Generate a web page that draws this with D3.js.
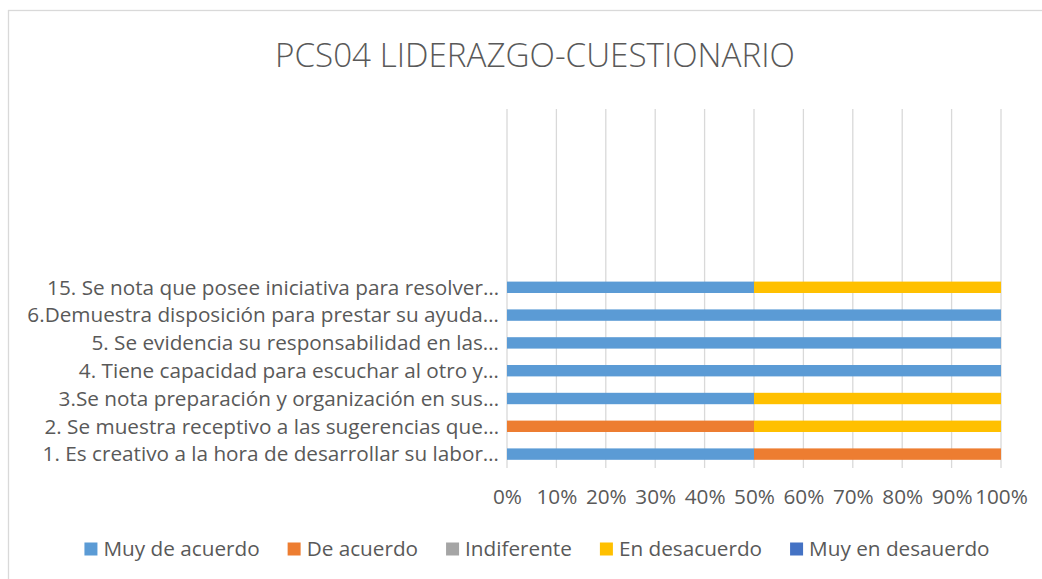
<!DOCTYPE html>
<html>
<head>
<meta charset="utf-8">
<script src="https://cdn.jsdelivr.net/npm/d3@7"></script>
<style>
  html, body { margin: 0; padding: 0; background: #fff; }
  svg { display: block; }
</style>
</head>
<body>
<svg id="chart" width="1042" height="579"></svg>
<script>
const title = "PCS04 LIDERAZGO-CUESTIONARIO";
const categories = [
  "15. Se nota que posee iniciativa para resolver…",
  "6.Demuestra disposición para prestar su ayuda…",
  "5. Se evidencia su responsabilidad en las…",
  "4. Tiene capacidad para escuchar al otro y…",
  "3.Se nota preparación y organización en sus…",
  "2. Se muestra receptivo a las sugerencias que…",
  "1. Es creativo a la hora de desarrollar su labor…"
];
const seriesNames = ["Muy de acuerdo", "De acuerdo", "Indiferente", "En desacuerdo", "Muy en desauerdo"];
const muyDeAcuerdo   = [50, 100, 100, 100, 50, 0, 50];
const deAcuerdo      = [0, 0, 0, 0, 0, 50, 50];
const indiferente    = [0, 0, 0, 0, 0, 0, 0];
const enDesacuerdo   = [50, 0, 0, 0, 50, 50, 0];
const muyEnDesacuerdo= [0, 0, 0, 0, 0, 0, 0];
const tickValues = [0, 0.1, 0.2, 0.3, 0.4, 0.5, 0.6, 0.7, 0.8, 0.9, 1.0];
const colors = ["#5B9BD5", "#ED7D31", "#A5A5A5", "#FFC000", "#4472C4"];

const seriesValues = [muyDeAcuerdo, deAcuerdo, indiferente, enDesacuerdo, muyEnDesacuerdo];
const rows = categories.map((c, i) => {
  const total = seriesValues.reduce((s, arr) => s + arr[i], 0);
  const o = { cat: c };
  seriesNames.forEach((n, k) => o[n] = seriesValues[k][i] / total);
  return o;
});
const stacked = d3.stack().keys(seriesNames)(rows);

const svg = d3.select("#chart");
const FONT = "'Open Sans', 'Noto Sans', sans-serif";
const TXT = "#595959";

// chart border
svg.append("rect").attr("x", 8.5).attr("y", 10.5).attr("width", 1100).attr("height", 700)
  .attr("fill", "#fff").attr("stroke", "#d9d9d9").attr("stroke-width", 1.3);

const plotLeft = 507, plotRight = 1001, plotTop = 109, plotBottom = 468;
const step = 27.8;
const x = d3.scaleLinear().domain([0, 1]).range([plotLeft, plotRight]);
const y = d3.scaleBand().domain(categories)
  .range([plotBottom - step * categories.length, plotBottom]).paddingInner(0.59).paddingOuter(0.295);

// gridlines
svg.append("g").selectAll("line").data(tickValues).join("line")
  .attr("x1", d => x(d)).attr("x2", d => x(d))
  .attr("y1", plotTop).attr("y2", plotBottom)
  .attr("stroke", "#d9d9d9").attr("stroke-width", 1.3);

// bars
svg.append("g").selectAll("g").data(stacked).join("g")
  .attr("fill", (d, i) => colors[i])
  .selectAll("rect").data(d => d).join("rect")
  .attr("x", d => x(d[0]))
  .attr("width", d => x(d[1]) - x(d[0]))
  .attr("y", d => y(d.data.cat))
  .attr("height", y.bandwidth());

// category labels
const catG = svg.append("g");
const catLabels = catG.selectAll("text").data(categories).join("text")
  .attr("x", 499).attr("y", d => y(d) + y.bandwidth() / 2)
  .attr("dy", "0.35em").attr("text-anchor", "end")
  .attr("font-family", FONT).attr("fill", TXT).attr("font-size", 16)
  .text(d => d);
// fit font size so longest label is ~472px
let maxW = 0;
catLabels.each(function() { maxW = Math.max(maxW, this.getComputedTextLength()); });
const fs = 16 * 472 / maxW;
catLabels.attr("font-size", fs);

// x axis tick labels
const xAxis = d3.axisBottom(x).tickValues(tickValues).tickFormat(d3.format(".0%")).tickSize(0).tickPadding(0);
const ax = svg.append("g").attr("transform", `translate(0,${489})`).call(xAxis);
ax.select(".domain").remove();
ax.selectAll("text").attr("font-family", FONT).attr("font-size", fs).attr("fill", TXT)
  .attr("dy", "0.71em");

// title
const t = svg.append("text").attr("x", 535).attr("y", 55).attr("dy", "0.35em")
  .attr("text-anchor", "middle").attr("font-family", FONT).attr("font-weight", 300)
  .attr("fill", TXT).attr("font-size", 28).text(title);
const tw = t.node().getComputedTextLength();
t.attr("font-size", 28 * 520 / tw);

// legend
const lg = svg.append("g");
const items = lg.selectAll("g").data(seriesNames).join("g");
items.append("rect").attr("width", 13).attr("height", 13).attr("y", -6.5)
  .attr("fill", (d, i) => colors[i]);
items.append("text").attr("x", 19).attr("dy", "0.35em")
  .attr("font-family", FONT).attr("font-size", fs).attr("fill", TXT).text(d => d);
let widths = [];
items.each(function() { widths.push(19 + d3.select(this).select("text").node().getComputedTextLength()); });
const gap = 28;
const total = widths.reduce((a, b) => a + b, 0) + gap * (widths.length - 1);
let cx = 537 - total / 2;
items.attr("transform", (d, i) => { const p = cx; cx += widths[i] + gap; return `translate(${p},549)`; });
</script>
</body>
</html>
